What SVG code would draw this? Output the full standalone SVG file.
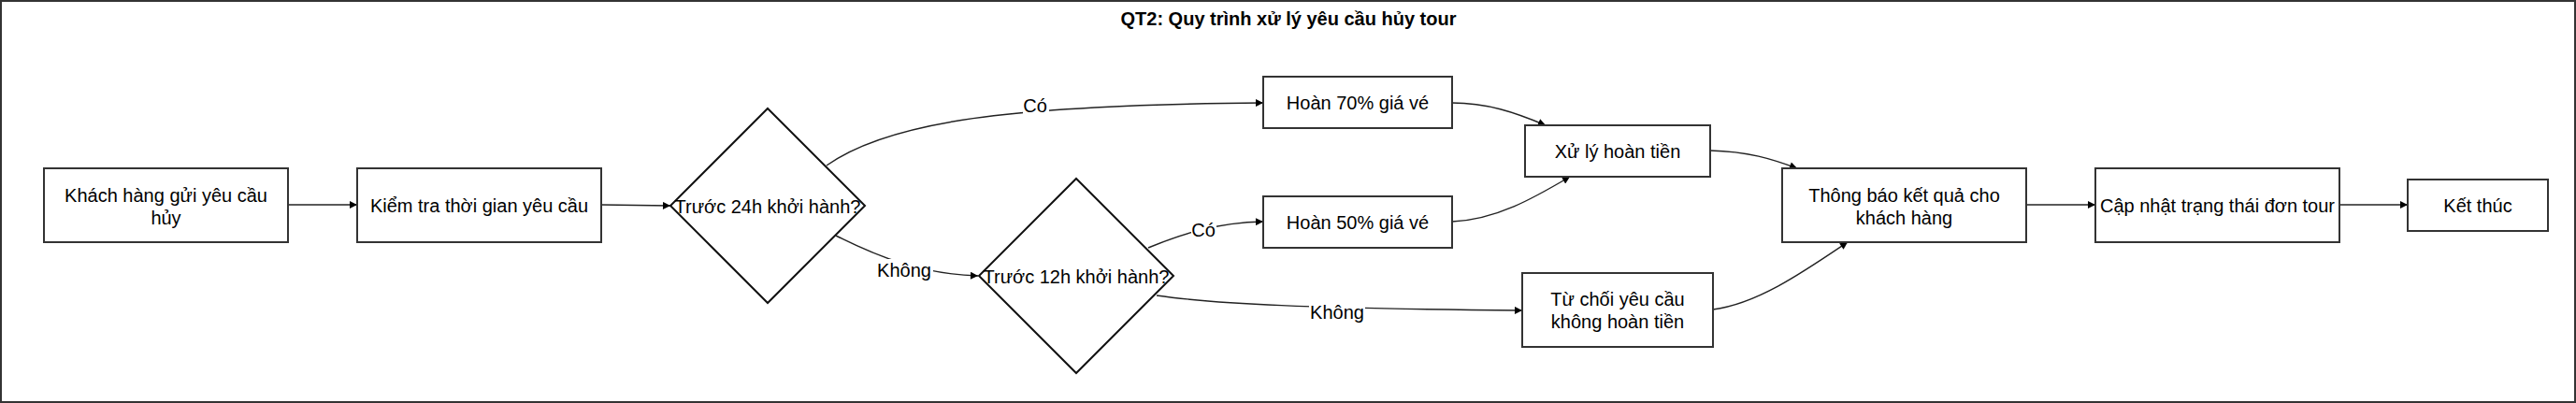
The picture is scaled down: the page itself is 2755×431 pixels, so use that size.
<svg xmlns="http://www.w3.org/2000/svg" width="2755" height="431" viewBox="0 0 2755 431">
<style>
.frame{fill:#fff;stroke:#333;stroke-width:2}
.box{fill:#fff;stroke:#333;stroke-width:2}
.dia{fill:#fff;stroke:#111;stroke-width:2}
.t{font-family:"Liberation Sans",Arial,sans-serif;font-size:20px;fill:#000;text-anchor:middle}
.title{font-family:"Liberation Sans",Arial,sans-serif;font-size:20px;font-weight:bold;fill:#000;text-anchor:middle}
.edge{fill:none;stroke:#222;stroke-width:1.4;marker-end:url(#arr)}
.lbg{fill:#fff;stroke:none}
</style>
<defs>
<marker id="arr" viewBox="0 0 10 10" refX="10" refY="5" markerWidth="9" markerHeight="8" markerUnits="userSpaceOnUse" orient="auto">
<path d="M0,0 L10,5 L0,10 z" fill="#000"/>
</marker>
</defs>
<rect class="frame" x="1" y="1" width="2753" height="429"/>
<text class="title" x="1378" y="27">QT2: Quy trình xử lý yêu cầu hủy tour</text>

<g id="connectors">
<path class="edge" d="M308,219 L382,219"/>
<path class="edge" d="M643,219 L717,220"/>
<path class="edge" d="M884,177 C950,130 1080,112 1351,110"/>
<path class="edge" d="M894,252 C940,275 985,293 1046,295"/>
<path class="edge" d="M1228,265 C1262,251 1300,238 1351,237"/>
<path class="edge" d="M1237,316 C1300,325 1400,330 1628,332"/>
<path class="edge" d="M1553,110 C1590,110 1620,120 1653,134"/>
<path class="edge" d="M1553,237 C1600,235 1640,212 1679,189"/>
<path class="edge" d="M1829,161 C1870,162 1895,170 1922,180"/>
<path class="edge" d="M1832,331 C1880,325 1930,290 1976,259"/>
<path class="edge" d="M2167,219 L2241,219"/>
<path class="edge" d="M2502,219 L2575,219"/>
<rect class="lbg" x="1094" y="100" width="28" height="24"/>
<text class="t" x="1107" y="120">Có</text>
<rect class="lbg" x="938" y="277" width="60" height="24"/>
<text class="t" x="967" y="296">Không</text>
<rect class="lbg" x="1274" y="234" width="27" height="24"/>
<text class="t" x="1287" y="253">Có</text>
<rect class="lbg" x="1400" y="321" width="60" height="24"/>
<text class="t" x="1430" y="341">Không</text>
</g>

<g id="n1"><rect class="box" x="47" y="180" width="261" height="79"/>
<text class="t" x="177.5" y="216">Khách hàng gửi yêu cầu</text><text class="t" x="177.5" y="240">hủy</text></g>
<g id="n2"><rect class="box" x="382" y="180" width="261" height="79"/>
<text class="t" x="512.5" y="227">Kiểm tra thời gian yêu cầu</text></g>
<g id="d1"><polygon class="dia" points="821,116 925,220 821,324 717,220"/>
<text class="t" x="821" y="228">Trước 24h khởi hành?</text></g>
<g id="d2"><polygon class="dia" points="1151,191 1255,295 1151,399 1047,295"/>
<text class="t" x="1151" y="303">Trước 12h khởi hành?</text></g>
<g id="n70"><rect class="box" x="1351" y="82" width="202" height="55"/>
<text class="t" x="1452" y="117">Hoàn 70% giá vé</text></g>
<g id="n50"><rect class="box" x="1351" y="210" width="202" height="55"/>
<text class="t" x="1452" y="245">Hoàn 50% giá vé</text></g>
<g id="nxl"><rect class="box" x="1631" y="134" width="198" height="55"/>
<text class="t" x="1730" y="169">Xử lý hoàn tiền</text></g>
<g id="ntc"><rect class="box" x="1628" y="292" width="204" height="79"/>
<text class="t" x="1730" y="327">Từ chối yêu cầu</text><text class="t" x="1730" y="351">không hoàn tiền</text></g>
<g id="ntb"><rect class="box" x="1906" y="180" width="261" height="79"/>
<text class="t" x="2036.5" y="216">Thông báo kết quả cho</text><text class="t" x="2036.5" y="240">khách hàng</text></g>
<g id="ncn"><rect class="box" x="2241" y="180" width="261" height="79"/>
<text class="t" x="2371.5" y="227">Cập nhật trạng thái đơn tour</text></g>
<g id="nkt"><rect class="box" x="2575" y="192" width="150" height="55"/>
<text class="t" x="2650" y="227">Kết thúc</text></g>
</svg>
